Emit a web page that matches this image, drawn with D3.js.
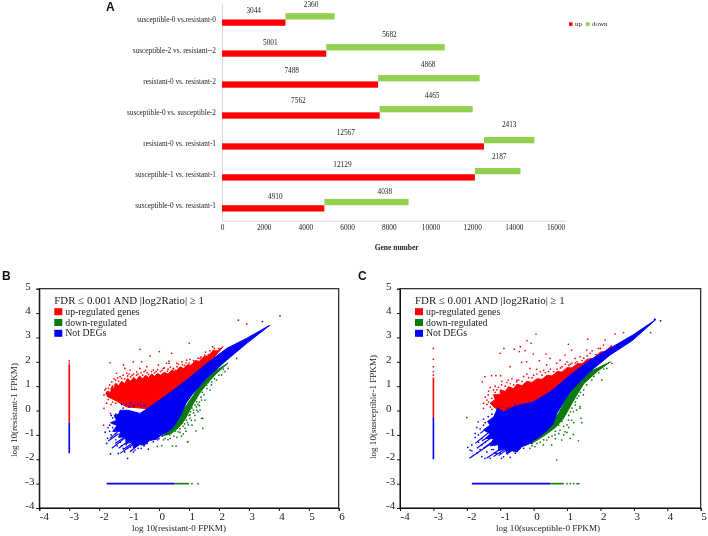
<!DOCTYPE html>
<html><head><meta charset="utf-8">
<script src="https://cdn.jsdelivr.net/npm/d3@7"></script>
<style>html,body{margin:0;background:#fff}svg{display:block;filter:blur(0.3px)}text{font-family:"Liberation Serif",serif}</style>
</head><body><svg id="c" width="708" height="536"></svg>
<script>
// ---- Panel A data
const comparisons=["susceptible-0 vs.resistant-0","susceptible-2 vs. resistant--2","resistant-0 vs. resistant-2","susceptible-0 vs. susceptible-2","resistant-0 vs. resistant-1","susceptible-1 vs. resistant-1","susceptible-0 vs. resistant-1"];
const upCounts=[3044,5001,7488,7562,12567,12129,4910];
const downCounts=[2360,5682,4868,4465,2413,2187,4038];
const geneTicks=[0,2000,4000,6000,8000,10000,12000,14000,16000];
// ---- Panel B data: outlines of the saturated clouds and the loose points, in log10 units
const bRedCloud=[[-1.78,.7],[-1.7,.8],[-1.62,.72],[-1.58,.98],[-1.5,.9],[-1.45,1.12],[-1.35,1.02],[-1.25,1.2],[-1.15,1.1],[-1.05,1.32],[-.95,1.2],[-.85,1.36],[-.75,1.25],[-.65,1.42],[-.55,1.3],[-.45,1.45],[-.35,1.35],[-.25,1.5],[-.15,1.4],[-.05,1.52],[.05,1.45],[.15,1.55],[.3,1.5],[.42,1.65],[.55,1.6],[.7,1.8],[.82,1.72],[.95,1.88],[1.08,1.85],[1.2,2.05],[1.35,2.02],[1.5,2.22],[1.65,2.25],[1.8,2.45],[1.95,2.45],[2.14,2.62],[1.37,1.52],[.47,.7],[-.42,.08],[-1.08,.15],[-1.47,.42],[-1.6,.5],[-1.7,.55]];
const bGreenCloud=[[2.3,1.95],[1.9,1.5],[1.6,1.1],[1.35,.7],[1.15,.3],[.98,-.1],[.85,-.4],[.65,-.7],[.4,-.95],[.1,-1.05],[.4,-.7],[.8,0],[1.3,.9],[1.8,1.55]];
const bBlueCloud=[[3.7,3.5],[2.92,2.96],[2.26,2.55],[1.59,1.93],[.92,1.25],[.25,.63],[-.31,.15],[-.64,-.12],[-1.03,.01],[-1.3,.01],[-1.35,-.15],[-1.5,-.2],[-1.42,-.4],[-1.6,-.5],[-1.4,-.62],[-1.55,-.85],[-1.28,-.85],[-1.35,-1.1],[-1.12,-1.08],[-1.1,-1.35],[-.9,-1.3],[-.85,-1.55],[-.65,-1.4],[-.5,-1.42],[-.3,-1.22],[-.1,-1.18],[.1,-.98],[.3,-.85],[.45,-.72],[.52,-.6],[.72,-.2],[.9,.3],[1.1,.65],[1.59,1.32],[2.26,2.07],[2.92,2.75]];
const bRedDots=[[2.65,3.71],[2.93,3.55],[1.01,2.76],[-.64,2.51],[.01,2.42],[1.79,2.62],[.42,2.35],[-.3,2.24],[-1.64,1.96],[.33,2.03],[.33,1.94],[-.86,2.0],[-.58,2.0],[-1.19,1.87],[1.03,2.1],[.92,2.07],[1.37,2.14],[1.53,2.28],[1.81,2.46],[1.92,2.35],[.59,1.94],[.76,2.0],[.14,1.73],[-.02,1.87],[-.41,1.8],[-.97,1.66],[-1.08,1.53],[-1.42,1.53],[-1.58,1.18],[-1.47,1.05],[-1.81,.84],[-1.84,.64],[-1.69,.91],[-1.3,1.39],[-.75,1.59],[-.19,1.66],[1.26,2.0],[.48,1.73],[-1.84,.09],[-1.62,-.12],[.25,1.94],[-.64,1.73],[-1.14,1.73],[-1.5,1.3],[-1.2,1.45],[-1.0,1.5],[-.9,1.45],[-.5,1.6],[-.4,1.55],[-.1,1.6],[.05,1.6],[.3,1.7],[.4,1.6],[.6,1.8],[.7,1.75],[.85,1.85],[1.1,1.9],[1.2,1.95],[1.45,2.1],[1.65,2.3],[-1.75,.75],[-1.7,.6],[-1.6,.55],[-1.55,1.0],[-1.35,1.2],[-.7,1.5],[.2,1.55],[.55,1.65],[1.0,1.85],[-1.85,-.6],[-1.65,1.05],[-1.6,.88],[-1.45,1.25],[-1.38,1.35],[-1.25,1.32],[-1.15,1.3],[-1.05,1.42],[-.95,1.38],[-.85,1.5],[-.75,1.45],[-.6,1.55],[-.55,1.45],[-.45,1.65],[-.35,1.48],[-.25,1.6],[-.15,1.55],[-.05,1.68],[.1,1.65],[.18,1.75],[.28,1.62],[.38,1.78],[.48,1.7],[.65,1.9],[.78,1.88],[.9,1.95],[1.0,1.95],[1.15,2.05],[1.3,2.15],[1.4,2.2],[1.55,2.4],[1.7,2.45],[1.85,2.55],[2.0,2.55],[-1.72,.65],[-1.78,.9],[-1.7,.45],[-1.55,.35],[-1.6,.25],[-1.45,.3],[-1.75,.3]];
const bGreenDots=[[1.46,-.32],[1.46,-.73],[1.23,-.84],[.96,-1.28],[.81,-.96],[.57,-1.46],[.45,-1.46],[.09,-1.44],[-.06,-1.48],[.98,-.59],[.92,-.39],[.76,-.53],[1.03,-.18],[1.15,.02],[1.37,.02],[1.53,.43],[.64,-.87],[.37,-1.14],[.2,-1.14],[.87,-.73],[1.03,-.32],[1.2,.23],[1.26,.36],[2.59,2.14],[2.31,1.73],[2.09,1.46],[1.92,1.25],[1.87,1.53],[1.7,.84],[1.42,.43],[1.26,.02],[1.42,-.32],[1.09,.36],[1.31,.7],[1.59,1.05],[1.76,1.18],[.95,-1.29],[1.1,.1],[1.05,-.05],[1.15,-.1],[1.2,-.2],[1.0,-.2],[1.08,-.4],[.95,-.5],[1.1,-.6],[.85,-.55],[.8,-.65],[.9,-.85],[.7,-.75],[.7,-.9],[.55,-.85],[.5,-1.05],[.6,-1.1],[.35,-1.0],[.3,-1.2],[.15,-1.2],[1.3,.25],[1.35,.2],[1.25,.5],[1.4,.55],[1.45,.75],[1.5,.65],[1.6,.9],[1.65,1.15],[1.75,1.05],[1.85,1.3],[2.0,1.45],[2.15,1.7],[2.2,1.6],[1.2,-.4],[1.25,.15],[1.1,.3],[1.3,-.05],[.75,-1.05],[1.35,.35]];
const bBlueDots=[[4.04,3.89],[3.45,3.65],[-1.72,-1.14],[-1.8,-.89],[-1.62,-1.78],[-1.05,-1.96],[-.36,-1.58],[-.19,-1.28],[-1.53,-.53],[-1.75,-1.35],[-1.36,-1.76],[-1.7,-.7],[-1.6,-1.0],[-1.15,-1.7],[-.8,-1.62],[-.5,-1.45],[0,-1.15],[.1,-1.05],[-1.6,-.5],[-1.45,-1.2],[-1.2,-1.55],[-1.2,.1],[-1.1,.25],[-.95,.3],[-.85,.2],[-.7,.25],[-.6,.2],[-.5,.2],[-1.25,.25],[-1.0,.15],[-1.65,-.6],[-1.55,-.7],[-1.5,-.85],[-1.45,-.95],[-1.65,-.85],[-1.4,-1.45],[-1.3,-1.3],[-1.25,-1.45],[-1.1,-1.4],[-1.05,-1.55],[-.95,-1.5],[-.85,-1.7],[-.7,-1.55],[-.6,-1.55],[-.4,-1.35],[-.25,-1.2],[-.05,-1.2],[.25,-.95],[-1.55,-.3],[-1.6,-.2],[-1.45,-.15]];
const bBlueStreaks=[[[-1.58,-1.55],[-1.08,-1.07]],[[-1.3,-1.76],[-.75,-1.28]],[[-1.64,-1.14],[-1.25,-.73]],[[-1.47,-1.35],[-.97,-.94]],[[-.97,-1.69],[-.64,-1.35]],[[-1.7,-1.25],[-1.35,-.95]],[[-1.2,-1.6],[-.85,-1.3]],[[-1.35,-1.55],[-.9,-1.15]]];
const bVertical={x:-3,redTop:1.9,split:-.5,blueEnd:-1.75,redDots:[2.05,1.95]};
const bHorizontal={y:-3,blueStart:-1.75,split:.5,greenEnd:1.0,greenDots:[1.1,1.3]};
// ---- Panel C data
const cRedCloud=[[-1.15,.1],[-1.3,.3],[-1.15,.45],[-1.2,.65],[-1.0,.65],[-1.0,.85],[-.85,.78],[-.75,.98],[-.6,.9],[-.5,1.08],[-.35,1.02],[-.2,1.2],[-.05,1.15],[.1,1.3],[.25,1.28],[.4,1.45],[.55,1.42],[.7,1.6],[.85,1.58],[1.0,1.76],[1.15,1.75],[1.3,1.92],[1.45,1.92],[1.6,2.1],[1.8,2.15],[2.0,2.4],[2.15,2.42],[2.34,2.69],[2.2,2.2],[1.4,1.4],[.6,.7],[-.2,.2],[-.7,-.1]];
const cGreenCloud=[[2.3,2.0],[1.9,1.6],[1.5,1.1],[1.25,.55],[1.05,.05],[.88,-.35],[.65,-.7],[.3,-1.05],[0,-1.3],[-.1,-1.35],[.45,-.65],[.75,-.1],[1.1,.8],[1.7,1.6]];
const cBlueCloud=[[3.66,3.74],[2.97,3.1],[2.28,2.55],[1.68,2.07],[1.09,1.45],[.5,.77],[0,.36],[-.59,.15],[-.89,-.05],[-1.09,.08],[-1.19,-.26],[-1.38,-.45],[-1.3,-.6],[-1.5,-.8],[-1.3,-.95],[-1.45,-1.15],[-1.2,-1.15],[-1.3,-1.45],[-1.05,-1.4],[-1.05,-1.65],[-.85,-1.55],[-.8,-1.8],[-.65,-1.65],[-.5,-1.7],[-.35,-1.48],[-.15,-1.38],[0,-1.22],[.2,-1.05],[.45,-.75],[.59,-.53],[.69,-.12],[1.09,.77],[1.68,1.59],[2.28,2.27],[2.97,2.89]];
const cRedDots=[[.07,3.14],[-.2,2.87],[-.08,2.76],[-1.0,2.35],[-.89,2.55],[-.58,2.52],[-.4,2.62],[-.26,2.46],[-.43,2.42],[-.01,2.32],[.37,2.32],[1.04,2.72],[1.62,2.93],[2.14,2.89],[2.44,3.14],[2.69,3.2],[2.09,2.69],[1.14,2.48],[.94,2.28],[-.36,1.98],[-.21,2.0],[.17,2.05],[.49,2.14],[.79,2.07],[1.24,2.14],[1.59,2.48],[1.89,2.28],[1.94,2.55],[-1.26,1.43],[-1.13,1.43],[-.99,1.43],[-.76,1.25],[-1.46,1.39],[-1.54,1.18],[-.71,1.8],[-.11,1.73],[.09,1.69],[.39,1.87],[.69,1.94],[1.0,2.0],[1.39,2.21],[1.69,2.35],[-.51,1.18],[-.96,1.05],[-1.2,.84],[-1.36,.64],[-1.4,.43],[-1.5,.09],[-2.0,-.29],[-.5,1.25],[-.3,1.4],[-.2,1.5],[0,1.45],[.2,1.6],[.35,1.55],[.5,1.7],[.7,1.7],[.85,1.8],[1.05,1.85],[1.3,2.0],[1.5,2.15],[1.75,2.45],[-.8,1.15],[-1.05,.95],[-1.15,.75],[-1.25,.5],[-.65,1.3],[1.15,1.95],[-1.35,.8],[-1.3,.95],[-1.15,1.0],[-1.1,.85],[-.95,1.2],[-.85,1.0],[-.7,1.1],[-.6,1.05],[-.45,1.25],[-.35,1.2],[-.15,1.35],[-.05,1.35],[.1,1.5],[.25,1.45],[.3,1.65],[.45,1.6],[.6,1.6],[.8,1.75],[.95,1.9],[1.1,1.9],[1.25,1.95],[1.45,2.05],[1.6,2.25],[1.85,2.3],[2.0,2.55],[2.2,2.5],[-1.45,.55],[-1.35,.35],[-1.3,.15],[-1.4,.25],[-1.25,.05],[-1.5,.3]];
const cGreenDots=[[1.39,.09],[1.42,-.32],[1.44,-.5],[1.19,-.98],[1.09,-1.14],[1.34,-1.24],[.84,-1.21],[.54,-1.41],[.69,-2.03],[.29,-1.41],[.04,-1.48],[-.11,-1.55],[.94,-.87],[1.0,-.59],[.79,-.8],[1.14,-.39],[1.19,-.05],[1.24,.23],[1.04,-.39],[.64,-1.0],[.39,-1.21],[3.5,3.2],[2.34,1.94],[2.04,1.25],[1.74,1.25],[1.49,.64],[1.39,.16],[1.29,.02],[1.59,1.05],[2.19,1.73],[.65,-.85],[.75,-.6],[.85,-.45],[.9,-.65],[1.05,-.2],[1.1,-.05],[1.15,.1],[.95,-.15],[1.25,.35],[1.3,.5],[1.35,.6],[1.4,.75],[1.5,.85],[1.55,1.25],[1.65,1.35],[1.8,1.4],[1.95,1.55],[2.1,1.7],[.55,-1.05],[.45,-1.1],[.2,-1.3],[.1,-1.35],[-.05,-1.45],[.75,-.95],[.65,-1.15],[1.0,-.9],[1.05,-.7],[.3,-1.2],[.9,-1.0],[1.2,-.5]];
const cBlueDots=[[3.8,3.68],[3.62,3.75],[-1.97,-1.51],[-1.9,-1.62],[-1.66,-.46],[-1.5,-.6],[-1.75,-.94],[-1.85,-1.41],[-1.46,-1.96],[-.96,-1.96],[-.7,-1.92],[-1.2,-.39],[-1.36,-.25],[-1.3,-1.96],[-1.55,-1.89],[-.41,-1.55],[-.16,-1.28],[-1.6,-.75],[-1.45,-1.3],[-1.1,-1.75],[-1.25,-1.6],[-1.7,-.7],[-1.65,-1.0],[-1.55,-1.15],[-1.5,-.35],[-1.45,-.5],[-1.65,-1.3],[-1.55,-1.4],[-1.4,-1.7],[-1.2,-1.6],[-1.15,-1.75],[-1.0,-1.75],[-.9,-1.9],[-.55,-1.75],[-.3,-1.55],[-.05,-1.35],[-1.75,-1.1],[-1.85,-1.65],[-1.7,-1.75],[-1.6,-1.6],[-1.25,-.15],[-1.05,.1],[-.95,0],[-.8,.1],[-.7,.1],[-.55,.25],[-.4,.25]];
const cBlueStreaks=[[[-1.92,-1.96],[-1.2,-1.28]],[[-1.5,-1.55],[-.96,-1.0]],[[-1.6,-.94],[-1.16,-.46]],[[-1.75,-1.35],[-1.25,-.8]],[[-1.41,-1.96],[-.76,-1.35]],[[-1.2,-1.89],[-.66,-1.41]],[[-1.7,-1.55],[-1.3,-1.15]],[[-1.55,-1.25],[-1.2,-.95]],[[-1.05,-1.85],[-.7,-1.5]]];
const cVertical={x:-3,redTop:1.35,split:-.3,blueEnd:-2,redDots:[1.45,1.6,1.8,2.1,2.55]};
const cHorizontal={y:-3,blueStart:-1.85,split:.5,greenEnd:.9,greenDots:[1.0,1.1,1.2,1.3,1.35]};
const bXTicks=[-4,-3,-2,-1,0,1,2,3,4,5,6], cXTicks=[-4,-3,-2,-1,0,1,2,3,4,5], yTicks=[5,4,3,2,1,0,-1,-2,-3,-4];
const legendLabels=["up-regulated genes","down-regulated","Not DEGs"];
const legendTitle="FDR ≤ 0.001 AND |log2Ratio| ≥ 1";

// ---- Styles and layout
const RED="#fe0000",GREEN="#0a7a0a",BLUE="#0000f5",UP="#fe0000",DOWN="#92d050",INK="#1a1a1a";
const svg=d3.select("#c");

// Panel A
const gx=d3.scaleLinear().domain([0,16500]).range([222,566]);
const gy=d3.scaleBand().domain(comparisons).range([4,220.7]);
const barH=6.3;
const upLabelAt=[1520,2320,3344,3664,5936,5776,2560], downLabelAt=[4272,8032,9888,10080,13776,13296,7808];
const upRise=[6.3,7.7,5,3.7,5,5.7,6.7], downRise=[0,-1,-1,-1,-3.7,-2.3,2];
const A=svg.append("g");
const ax=A.append("g").attr("transform","translate(0,220.7)").call(d3.axisBottom(gx).tickValues(geneTicks).tickSize(0).tickPadding(4).tickFormat(d3.format("d")));
const ay=A.append("g").attr("transform","translate(222,0)").call(d3.axisLeft(gy).tickSize(0).tickPadding(6));
[ax,ay].forEach(g=>{g.select(".domain").attr("stroke","#d9d9d9").attr("stroke-width",1);
 g.selectAll("text").attr("font-family","Liberation Serif").attr("font-size",7.3).attr("fill","#222")});
comparisons.forEach((c,i)=>{
 const mid=gy(c)+gy.bandwidth()/2;
 A.append("rect").attr("x",gx(0)).attr("y",mid).attr("width",gx(upCounts[i])-gx(0)).attr("height",barH).attr("fill",UP);
 A.append("rect").attr("x",gx(upCounts[i])).attr("y",mid-barH).attr("width",gx(upCounts[i]+downCounts[i])-gx(upCounts[i])).attr("height",barH).attr("fill",DOWN);
 A.append("text").attr("x",gx(upLabelAt[i])).attr("y",gy(c)+upRise[i]).attr("dy","0.35em").attr("text-anchor","middle").attr("font-size",7.3).attr("fill","#222").text(upCounts[i]);
 A.append("text").attr("x",gx(downLabelAt[i])).attr("y",gy(c)+downRise[i]).attr("dy","0.35em").attr("text-anchor","middle").attr("font-size",7.3).attr("fill","#222").text(downCounts[i]);
});
A.append("text").attr("x",396.7).attr("y",250).attr("text-anchor","middle").attr("font-size",7.5).attr("font-weight","bold").attr("fill","#222").text("Gene number");
A.append("rect").attr("x",569).attr("y",22.3).attr("width",3.6).attr("height",3.6).attr("fill",UP);
A.append("text").attr("x",575).attr("y",26.3).attr("font-size",7).attr("fill","#222").text("up");
A.append("rect").attr("x",586).attr("y",22.3).attr("width",3.6).attr("height",3.6).attr("fill",DOWN);
A.append("text").attr("x",592).attr("y",26.3).attr("font-size",7).attr("fill","#222").text("down");

// Panel letters
[["A",106,11],["B",2,280],["C",358,280]].forEach(([t,x,y])=>svg.append("text").attr("x",x).attr("y",y).attr("font-size",12).attr("font-weight","bold").style("font-family","Liberation Sans").attr("fill","#111").text(t));

function scatter(o){
 const x=d3.scaleLinear().domain(o.xDomain).range(o.xRange), y=d3.scaleLinear().domain([-4,5]).range([508,288.7]);
 const g=svg.append("g");
 const line=d3.line().x(d=>x(d[0])).y(d=>y(d[1])).curve(d3.curveLinearClosed);
 const open=d3.line().x(d=>x(d[0])).y(d=>y(d[1]));
 const cloud=(pts,col)=>g.append("path").attr("d",line(pts)).attr("fill",col).attr("stroke",col).attr("stroke-width",1);
 const dots=(pts,col)=>g.append("g").selectAll("circle").data(pts).join("circle").attr("cx",d=>x(d[0])).attr("cy",d=>y(d[1])).attr("r",.85).attr("fill",col);
 const strip=(a,b,col)=>g.append("path").attr("d",open([a,b])).attr("stroke",col).attr("stroke-width",1.6).attr("fill","none");
 cloud(o.redCloud,RED);dots(o.redDots,RED);
 cloud(o.greenCloud,GREEN);dots(o.greenDots,GREEN);
 cloud(o.blueCloud,BLUE);dots(o.blueDots,BLUE);
 o.streaks.forEach(s=>g.append("path").attr("d",open(s)).attr("stroke",BLUE).attr("stroke-width",1.1).attr("fill","none"));
 const v=o.vertical,h=o.horizontal;
 strip([v.x,v.redTop],[v.x,v.split],RED);strip([v.x,v.split],[v.x,v.blueEnd],BLUE);
 dots(v.redDots.map(d=>[v.x,d]),RED);
 strip([h.blueStart,h.y],[h.split,h.y],BLUE);strip([h.split,h.y],[h.greenEnd,h.y],GREEN);
 dots(h.greenDots.map(d=>[d,h.y]),GREEN);
 // frame
 g.append("rect").attr("x",o.xRange[0]).attr("y",288.7).attr("width",o.xRange[1]-o.xRange[0]).attr("height",219.3).attr("fill","none").attr("stroke","#111").attr("stroke-width",1.1);
 const fmt=d=>String(d);
 const ax=g.append("g").attr("transform","translate(0,508)").call(d3.axisBottom(x).tickValues(o.xTicks).tickSize(3).tickPadding(1).tickFormat(fmt));
 const ay=g.append("g").attr("transform",`translate(${o.xRange[0]},0)`).call(d3.axisLeft(y).tickValues(yTicks).tickSize(3).tickPadding(2).tickFormat(fmt));
 [ax,ay].forEach(a=>{a.selectAll("text").attr("font-family","Liberation Serif").attr("font-size",11).attr("fill",INK);a.selectAll("line,.domain").attr("stroke","#111")});
 ax.selectAll("text").attr("text-anchor","start").attr("dx",0);
 ay.selectAll("text").attr("text-anchor","start").attr("x",-14).attr("dy","0.05em");
 const l=o.xRange[0]+15;
 g.append("text").attr("x",l).attr("y",303.5).attr("font-size",10.9).attr("fill",INK).text(legendTitle);
 [RED,GREEN,BLUE].forEach((c,i)=>{
  const yc=311.7+i*10.8;
  g.append("rect").attr("x",l).attr("y",yc-3.5).attr("width",8).attr("height",7).attr("fill",c);
  g.append("text").attr("x",l+11).attr("y",yc+3).attr("font-size",9.8).attr("fill",INK).text(legendLabels[i]);
 });
 g.append("text").attr("x",o.xTitle[1]).attr("y",531).attr("text-anchor","middle").attr("font-size",9.1).attr("fill",INK).text(o.xTitle[0]);
 g.append("text").attr("transform",`translate(${o.yTitle[1]},${o.yTitle[2]}) rotate(-90)`).attr("text-anchor","middle").attr("font-size",9.1).attr("fill",INK).text(o.yTitle[0]);
}
scatter({xDomain:[-4,6],xRange:[39.3,338.7],xTicks:bXTicks,redCloud:bRedCloud,greenCloud:bGreenCloud,blueCloud:bBlueCloud,redDots:bRedDots,greenDots:bGreenDots,blueDots:bBlueDots,streaks:bBlueStreaks,vertical:bVertical,horizontal:bHorizontal,xTitle:["log 10(resistant-0 FPKM)",179],yTitle:["log 10(resistant-1 FPKM)",17,410]});
scatter({xDomain:[-4,5],xRange:[400,700.7],xTicks:cXTicks,redCloud:cRedCloud,greenCloud:cGreenCloud,blueCloud:cBlueCloud,redDots:cRedDots,greenDots:cGreenDots,blueDots:cBlueDots,streaks:cBlueStreaks,vertical:cVertical,horizontal:cHorizontal,xTitle:["log 10(susceptible-0 FPKM)",548],yTitle:["log 10(susceptible-1 FPKM)",376,407]});
</script></body></html>
